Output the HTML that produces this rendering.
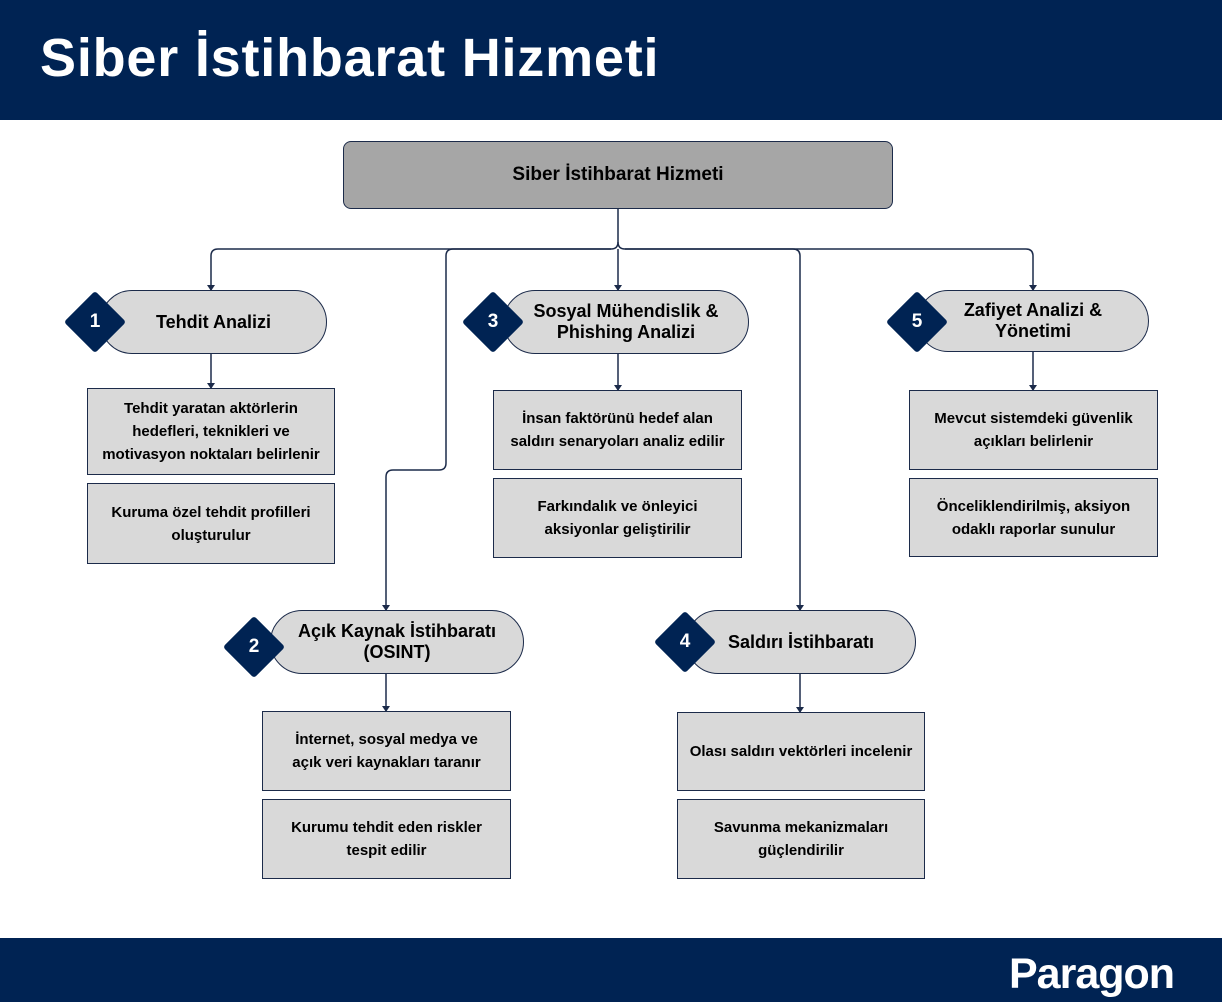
<!DOCTYPE html>
<html><head><meta charset="utf-8"><style>
body{margin:0;width:1222px;height:1002px;position:relative;background:#fff;font-family:"Liberation Sans",sans-serif;overflow:hidden}
.hdr{position:absolute;left:0;top:0;width:1222px;height:120px;background:#002353}
.hdr h1{position:absolute;left:40px;top:27px;margin:0;color:#fff;font-size:54px;font-weight:bold;letter-spacing:0.8px}
.ftr{position:absolute;left:0;top:938px;width:1222px;height:64px;background:#002353}
.ftr span{position:absolute;left:1009px;top:12px;color:#fff;font-size:43px;font-weight:bold;letter-spacing:-1px}
.n{position:absolute;display:flex;align-items:center;justify-content:center;text-align:center;box-sizing:border-box;font-weight:bold;color:#000}
.root{background:#a6a6a6;border:1.5px solid #1c2b4a;border-radius:8px;font-size:19px}
.pill{background:#d9d9d9;border:1.5px solid #1c2b4a;border-radius:32px;font-size:18px;line-height:21px}
.box{background:#d9d9d9;border:1px solid #1c2b4a;font-size:15px;line-height:23px;padding:0 14px}
.dia{position:absolute;width:44px;height:44px;background:#002353;transform:rotate(45deg);border-radius:3px}
.num{position:absolute;width:40px;text-align:center;color:#fff;font-weight:bold;font-size:19px}
</style></head><body>
<div class="hdr"><h1>Siber İstihbarat Hizmeti</h1></div>
<svg style="position:absolute;left:0;top:0" width="1222" height="1002">
<defs><marker id="b" markerWidth="8" markerHeight="8" refX="4" refY="7" markerUnits="userSpaceOnUse"><path d="M0,2 L8,2 L4,8z" fill="#1c2b4a"/></marker></defs>
<g fill="none" stroke="#1c2b4a" stroke-width="1.5">
<path d="M618,209 V242 Q618,249 611,249 H218 Q211,249 211,256 V290" marker-end="url(#b)"/>
<path d="M618,242 Q618,249 625,249 H1026 Q1033,249 1033,256 V290" marker-end="url(#b)"/>
<path d="M618,249 V290" marker-end="url(#b)"/>
<path d="M611,249 H453 Q446,249 446,256 V463 Q446,470 439,470 H393 Q386,470 386,477 V610" marker-end="url(#b)"/>
<path d="M625,249 H793 Q800,249 800,256 V610" marker-end="url(#b)"/>
<path d="M211,354 V388" marker-end="url(#b)"/>
<path d="M618,354 V390" marker-end="url(#b)"/>
<path d="M1033,352 V390" marker-end="url(#b)"/>
<path d="M386,674 V711" marker-end="url(#b)"/>
<path d="M800,674 V712" marker-end="url(#b)"/>
</g></svg>
<div class="n root" style="left:343px;top:141px;width:550px;height:68px">Siber İstihbarat Hizmeti</div>

<div class="n pill" style="left:100px;top:290px;width:227px;height:64px">Tehdit Analizi</div>
<div class="dia" style="left:73px;top:300px"></div><div class="num" style="left:75px;top:311px">1</div>

<div class="n pill" style="left:503px;top:290px;width:246px;height:64px">Sosyal Mühendislik &amp;<br>Phishing Analizi</div>
<div class="dia" style="left:471px;top:300px"></div><div class="num" style="left:473px;top:311px">3</div>

<div class="n pill" style="left:917px;top:290px;width:232px;height:62px">Zafiyet Analizi &amp;<br>Yönetimi</div>
<div class="dia" style="left:895px;top:300px"></div><div class="num" style="left:897px;top:311px">5</div>

<div class="n pill" style="left:270px;top:610px;width:254px;height:64px">Açık Kaynak İstihbaratı<br>(OSINT)</div>
<div class="dia" style="left:232px;top:625px"></div><div class="num" style="left:234px;top:636px">2</div>

<div class="n pill" style="left:686px;top:610px;width:230px;height:64px">Saldırı İstihbaratı</div>
<div class="dia" style="left:663px;top:620px"></div><div class="num" style="left:665px;top:631px">4</div>

<div class="n box" style="left:87px;top:388px;width:248px;height:87px;padding:0 8px">Tehdit yaratan aktörlerin hedefleri, teknikleri ve motivasyon noktaları belirlenir</div>
<div class="n box" style="left:87px;top:483px;width:248px;height:81px">Kuruma özel tehdit profilleri oluşturulur</div>
<div class="n box" style="left:493px;top:390px;width:249px;height:80px">İnsan faktörünü hedef alan saldırı senaryoları analiz edilir</div>
<div class="n box" style="left:493px;top:478px;width:249px;height:80px">Farkındalık ve önleyici aksiyonlar geliştirilir</div>
<div class="n box" style="left:909px;top:390px;width:249px;height:80px">Mevcut sistemdeki güvenlik açıkları belirlenir</div>
<div class="n box" style="left:909px;top:478px;width:249px;height:79px">Önceliklendirilmiş, aksiyon odaklı raporlar sunulur</div>
<div class="n box" style="left:262px;top:711px;width:249px;height:80px;padding:0 20px">İnternet, sosyal medya ve açık veri kaynakları taranır</div>
<div class="n box" style="left:262px;top:799px;width:249px;height:80px">Kurumu tehdit eden riskler tespit edilir</div>
<div class="n box" style="left:677px;top:712px;width:248px;height:79px;padding:0 6px">Olası saldırı vektörleri incelenir</div>
<div class="n box" style="left:677px;top:799px;width:248px;height:80px">Savunma mekanizmaları güçlendirilir</div>

<div class="ftr"><span>Paragon</span></div>
</body></html>
